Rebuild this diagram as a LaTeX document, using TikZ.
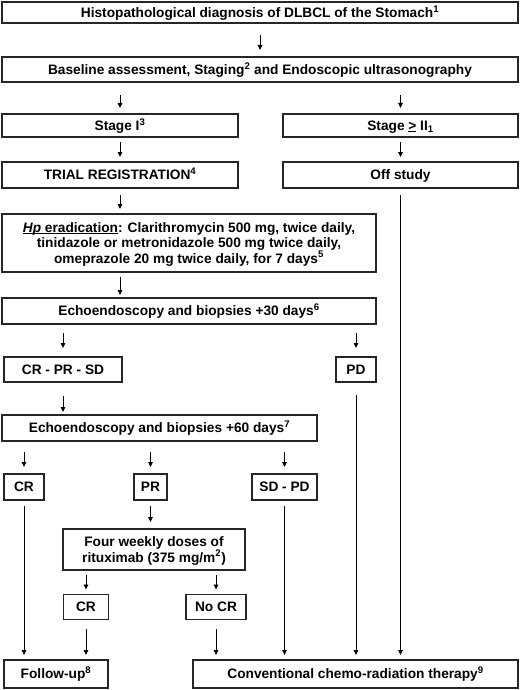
\documentclass[tikz,border=0pt]{standalone}
\usepackage{fontspec}
\setmainfont{Liberation Sans}
\usetikzlibrary{arrows.meta}
\newcommand\myul[1]{\setbox0\hbox{#1}\rlap{\rule[-1.6pt]{\wd0}{0.9pt}}\box0\relax}
\begin{document}
\begin{tikzpicture}[x=1pt,y=-1pt,
  box/.style={draw=black!85, line width=1.1pt, inner sep=0pt, outer sep=0pt, align=center,
    text depth=0pt, font=\fontsize{13.7}{15.2}\selectfont\bfseries},
  one/.style={text height=9.8pt},
  arr/.style={line width=0.9pt, -{Triangle[length=5pt,width=4.5pt]}},
]
\useasboundingbox (0,0) rectangle (520,690);
\node[box, one, minimum width=516, minimum height=21] (b1) at (260,12.5) {Histopathological diagnosis of DLBCL of the Stomach\textsuperscript{1}};
\node[box, one, minimum width=516, minimum height=25] (b2) at (260,69.5) {Baseline assessment, Staging\textsuperscript{2} and Endoscopic ultrasonography};
\node[box, one, minimum width=236, minimum height=23] (s1) at (120,125.5) {Stage I\textsuperscript{3}};
\node[box, one, minimum width=235, minimum height=23] (s2) at (400.5,125.5) {Stage \myul{>} II\textsubscript{1}};
\node[box, one, minimum width=236, minimum height=26] (tr) at (120,175) {TRIAL REGISTRATION\textsuperscript{4}};
\node[box, one, minimum width=235, minimum height=26] (off) at (400.5,175) {Off study};
\node[box, minimum width=374, minimum height=58] (hp) at (189,243) {\myul{\textit{Hp} eradication}: Clarithromycin 500 mg, twice daily,\\ tinidazole or metronidazole 500 mg twice daily,\\ omeprazole 20 mg twice daily, for 7 days\textsuperscript{5}};
\node[box, one, minimum width=374, minimum height=26] (e30) at (189,311) {Echoendoscopy and biopsies +30 days\textsuperscript{6}};
\node[box, one, minimum width=118, minimum height=25] (crs) at (63,369.5) {CR - PR - SD};
\node[box, one, minimum width=40, minimum height=25] (pd) at (356,369.5) {PD};
\node[box, one, minimum width=315, minimum height=26] (e60) at (159.5,428) {Echoendoscopy and biopsies +60 days\textsuperscript{7}};
\node[box, one, minimum width=40, minimum height=26] (cr) at (24,487) {CR};
\node[box, one, minimum width=33, minimum height=26] (pr) at (150.5,487) {PR};
\node[box, one, minimum width=65, minimum height=26] (sdpd) at (284.5,487) {SD - PD};
\node[box, minimum width=182, minimum height=41] (fw) at (154,549.5) {Four weekly doses of\\ rituximab (375 mg/m\textsuperscript{2})};
\node[box, one, minimum width=45, minimum height=25] (cr2) at (86,607) {CR};
\node[box, one, minimum width=60, minimum height=25] (nocr) at (216,607) {No CR};
\node[box, one, minimum width=104, minimum height=28] (fu) at (56,674) {Follow-up\textsuperscript{8}};
\node[box, one, minimum width=325, minimum height=28] (conv) at (355.5,674) {Conventional chemo-radiation therapy\textsuperscript{9}};

\draw[arr, shorten <=12pt, shorten >=7pt] (b1.south) -- (b2.north);
\draw[arr, shorten <=13pt, shorten >=6pt] (b2.south -| s1.north) -- (s1.north);
\draw[arr, shorten <=13pt, shorten >=6pt] (b2.south -| s2.north) -- (s2.north);
\draw[arr, shorten <=5pt, shorten >=5pt] (s1.south) -- (tr.north);
\draw[arr, shorten <=5pt, shorten >=5pt] (s2.south) -- (off.north);
\draw[arr, shorten <=7pt, shorten >=5pt] (tr.south) -- (tr.south |- hp.north);
\draw[arr, shorten <=5pt, shorten >=3pt] (hp.south -| tr.south) -- (tr.south |- e30.north);
\draw[arr, shorten <=9pt, shorten >=9pt] (e30.south -| crs.north) -- (crs.north);
\draw[arr, shorten <=9pt, shorten >=9pt] (e30.south -| pd.north) -- (pd.north);
\draw[arr, shorten <=14pt, shorten >=3pt] (crs.south) -- (crs.south |- e60.north);
\draw[arr, shorten <=11pt, shorten >=7pt] (e60.south -| cr.north) -- (cr.north);
\draw[arr, shorten <=11pt, shorten >=7pt] (e60.south -| pr.north) -- (pr.north);
\draw[arr, shorten <=11pt, shorten >=7pt] (e60.south -| sdpd.north) -- (sdpd.north);
\draw[arr, shorten <=6pt, shorten >=7pt] (pr.south) -- (pr.south |- fw.north);
\draw[arr, shorten <=5pt, shorten >=5pt] (fw.south -| cr2.north) -- (cr2.north);
\draw[arr, shorten <=5pt, shorten >=5pt] (fw.south -| nocr.north) -- (nocr.north);
\draw[arr, shorten <=6pt, shorten >=5pt] (cr.south) -- (cr.south |- fu.north);
\draw[arr, shorten <=9pt, shorten >=5pt] (cr2.south) -- (cr2.south |- fu.north);
\draw[arr, shorten <=9pt, shorten >=5pt] (nocr.south) -- (nocr.south |- conv.north);
\draw[arr, shorten <=6pt, shorten >=5pt] (sdpd.south) -- (sdpd.south |- conv.north);
\draw[arr, shorten <=13pt, shorten >=5pt] (pd.south) -- (pd.south |- conv.north);
\draw[arr, shorten <=7pt, shorten >=5pt] (off.south) -- (off.south |- conv.north);
\end{tikzpicture}
\end{document}
